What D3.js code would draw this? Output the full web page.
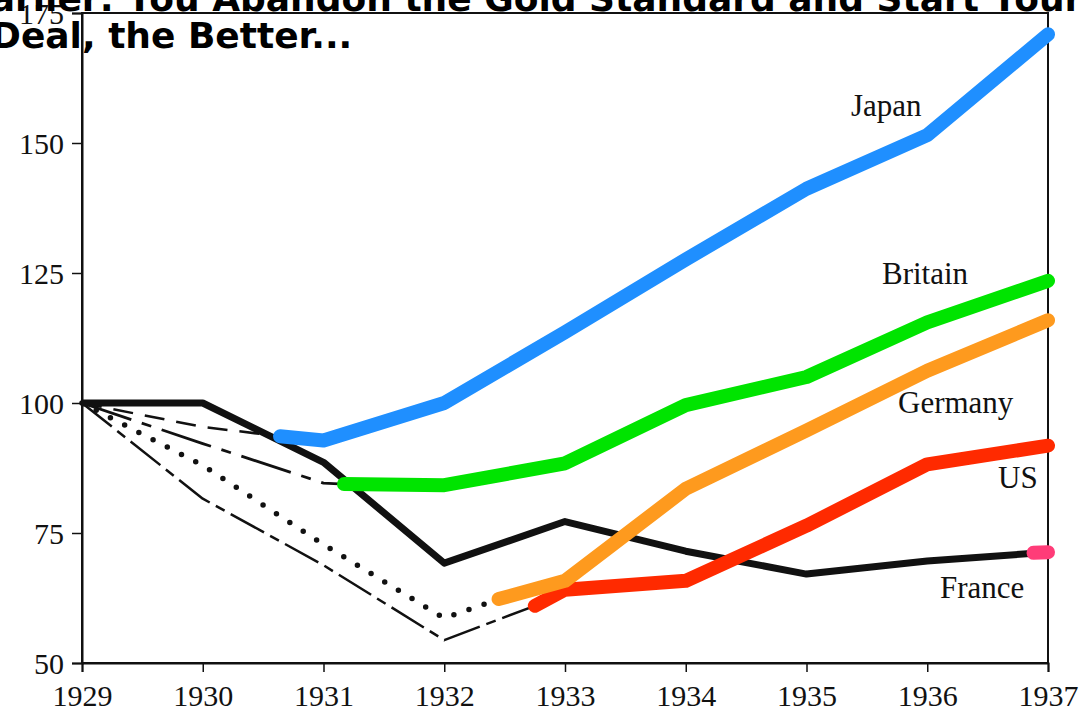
<!DOCTYPE html>
<html>
<head>
<meta charset="utf-8">
<script src="https://cdn.jsdelivr.net/npm/d3@7"></script>
<style>
  html, body { margin: 0; padding: 0; background: #fff; overflow: hidden; }
  svg { display: block; }
</style>
</head>
<body>
<div class="chart"></div>
<script>
// tick labels
var yearTicks = [1929, 1930, 1931, 1932, 1933, 1934, 1935, 1936, 1937];
var valueTicks = [50, 75, 100, 125, 150, 175];

// France (gold bloc, black) and its short off-gold end
var franceYears = [1929, 1930, 1931, 1932, 1933, 1934, 1935, 1936, 1937];
var franceValues = [100, 100, 88.6, 69.2, 77.2, 71.5, 67.1, 69.6, 71.3];
var franceOffYears = [1936.88, 1937];
var franceOffValues = [71.2, 71.3];

// Japan: on gold (dashed), then off gold (blue)
var japanGoldYears = [1929, 1930, 1930.64];
var japanGoldValues = [100, 95.4, 93.6];
var japanYears = [1930.64, 1931, 1932, 1933, 1934, 1935, 1936, 1937];
var japanValues = [93.6, 92.8, 100, 113.6, 127.6, 141.2, 151.5, 170.9];

// Britain
var britainGoldYears = [1929, 1930, 1931, 1931.17];
var britainGoldValues = [100, 92.2, 84.6, 84.4];
var britainYears = [1931.17, 1932, 1933, 1934, 1935, 1936, 1937];
var britainValues = [84.4, 84.2, 88.4, 99.6, 105.0, 115.5, 123.5];

// Germany
var germanyGoldYears = [1929, 1930, 1931, 1932, 1932.45];
var germanyGoldValues = [100, 88, 72.8, 58.6, 62.3];
var germanyYears = [1932.45, 1933, 1934, 1935, 1936, 1937];
var germanyValues = [62.3, 65.8, 83.5, 94.7, 106.2, 115.9];

// US
var usGoldYears = [1929, 1930, 1931, 1932, 1932.75];
var usGoldValues = [100, 81.6, 68.8, 54.4, 61];
var usYears = [1932.75, 1933, 1934, 1935, 1936, 1937];
var usValues = [61, 64.1, 65.8, 76.4, 88.2, 91.8];

var svgWidth = 1082;
var svgHeight = 717;

var margin = { top: 13, right: 34, bottom: 55, left: 82 };
var width = 1048 - margin.left;
var height = 663 - margin.top;

var svg = d3.select(".chart")
  .append("svg")
  .attr("width", svgWidth)
  .attr("height", svgHeight);

var chartGroup = svg.append("g")
  .attr("transform", `translate(${margin.left}, ${margin.top})`);

var xScale = d3.scaleLinear().domain([1929, 1937]).range([0, width]);
var yScale = d3.scaleLinear().domain([50, 175]).range([height, 0]);

var serif = "'Liberation Serif', 'Times New Roman', serif";

// frame
chartGroup.append("rect")
  .attr("x", 0)
  .attr("y", yScale(175))
  .attr("width", width)
  .attr("height", height)
  .attr("fill", "none")
  .attr("stroke", "#111")
  .attr("stroke-width", 2);

// axes
var xAxis = d3.axisBottom(xScale).tickValues(yearTicks).tickFormat(d3.format("d"))
  .tickSize(9).tickPadding(8);
var yAxis = d3.axisLeft(yScale).tickValues(valueTicks).tickSize(10).tickPadding(8);

var xg = chartGroup.append("g")
  .attr("transform", `translate(0, ${height})`)
  .call(xAxis);
var yg = chartGroup.append("g").call(yAxis);

[xg, yg].forEach(function(g) {
  g.select(".domain").attr("stroke", "#111").attr("stroke-width", 2);
  g.selectAll(".tick line").attr("stroke", "#111").attr("stroke-width", 1.5);
  g.selectAll("text")
    .attr("fill", "#111")
    .style("font-family", serif)
    .style("font-size", "30px");
});
xg.selectAll("text").attr("dy", "0.88em");
yg.selectAll("text").attr("dy", "0.34em");

function pairs(xs, ys) {
  return xs.map(function(x, i) { return [x, ys[i]]; });
}

var line = d3.line()
  .x(d => xScale(d[0]))
  .y(d => yScale(d[1]));

function drawLine(xs, ys, color, w, dash, cap) {
  chartGroup.append("path")
    .datum(pairs(xs, ys))
    .attr("d", line)
    .attr("fill", "none")
    .attr("stroke", color)
    .attr("stroke-width", w)
    .attr("stroke-linejoin", "round")
    .attr("stroke-linecap", cap || "round")
    .attr("stroke-dasharray", dash || null);
}

// gold-standard years (black, thin styles)
drawLine(japanGoldYears, japanGoldValues, "#111", 2.5, "20,12", "butt");
drawLine(britainGoldYears, britainGoldValues, "#111", 2.8, "52,11,10,11", "butt");
drawLine(germanyGoldYears, germanyGoldValues, "#111", 5.5, "0,16", "round");
drawLine(usGoldYears, usGoldValues, "#111", 2.5, "38,7,10,7", "butt");

// France
drawLine(franceYears, franceValues, "#111", 7, null, "butt");

// off gold (coloured)
drawLine(usYears, usValues, "#ff2a00", 14);
drawLine(germanyYears, germanyValues, "#fe9a1e", 14);
drawLine(britainYears, britainValues, "#00e400", 14);
drawLine(japanYears, japanValues, "#1f8fff", 14);
drawLine(franceOffYears, franceOffValues, "#ff3c78", 14);

// series labels
var labels = [
  { name: "Japan", x: 851, y: 116 },
  { name: "Britain", x: 882, y: 284 },
  { name: "Germany", x: 898, y: 413 },
  { name: "US", x: 998, y: 488 },
  { name: "France", x: 940, y: 598 }
];
svg.selectAll("text.series-label")
  .data(labels)
  .enter()
  .append("text")
  .classed("series-label", true)
  .attr("x", d => d.x)
  .attr("y", d => d.y)
  .style("font-family", serif)
  .style("font-size", "31px")
  .attr("fill", "#111")
  .text(d => d.name);

// title, mostly cut off at the top
var titleFont = "'DejaVu Sans', Verdana, sans-serif";
var lead = svg.append("text")
  .style("font-family", titleFont)
  .style("font-weight", "bold")
  .style("font-size", "36px")
  .text("Earlier: ");
var leadWidth = lead.node().getComputedTextLength();
lead.remove();

svg.append("text")
  .attr("x", 114 - leadWidth)
  .attr("y", 11)
  .style("font-family", titleFont)
  .style("font-weight", "bold")
  .style("font-size", "36px")
  .attr("fill", "#000")
  .text("Earlier: You Abandon the Gold Standard and Start Your New");

svg.append("text")
  .attr("x", -9)
  .attr("y", 48)
  .style("font-family", titleFont)
  .style("font-weight", "bold")
  .style("font-size", "36px")
  .attr("fill", "#000")
  .text("Deal, the Better...");
</script>
</body>
</html>
